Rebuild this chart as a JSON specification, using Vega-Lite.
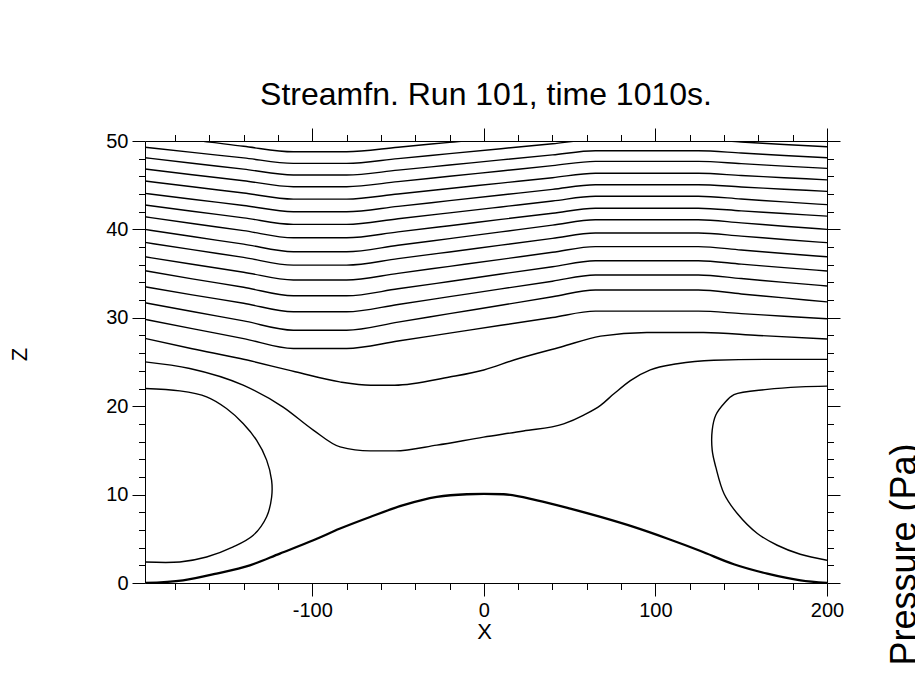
{
  "$schema": "https://vega.github.io/schema/vega-lite/v6.json",
  "width": 682,
  "height": 442,
  "autosize": {"type": "none"},
  "padding": {"left": 145, "top": 141, "right": 88, "bottom": 98},
  "background": "white",
  "title": {"text": "Streamfn. Run 101, time 1010s.", "font": "Liberation Sans", "fontSize": 32, "fontWeight": "normal", "color": "black", "frame": "group", "anchor": "middle", "baseline": "alphabetic", "offset": -9},
  "config": {
    "font": "Liberation Sans",
    "view": {"stroke": null},
    "axis": {"domainColor": "black", "tickColor": "black", "labelColor": "black", "titleColor": "black", "labelFont": "Liberation Sans", "titleFont": "Liberation Sans", "grid": false, "domainWidth": 1, "tickWidth": 1, "titleFontWeight": "normal"}
  },
  "datasets": {
    "upper": [
      {"c":"L0","x":-197.5,"z":50.45},{"c":"L0","x":-170,"z":50.1},{"c":"L0","x":-140,"z":49.4},{"c":"L0","x":-111,"z":48.78},{"c":"L0","x":-80,"z":48.78},{"c":"L0","x":-50,"z":49.3},{"c":"L0","x":-20,"z":49.85},{"c":"L0","x":10,"z":50.4},{"c":"L0","x":40,"z":50.95},{"c":"L0","x":65,"z":51.4},{"c":"L0","x":95,"z":51.4},{"c":"L0","x":125,"z":51.4},{"c":"L0","x":150,"z":51.1},{"c":"L0","x":175,"z":50.8},{"c":"L0","x":200,"z":50.5},
      {"c":"L1","x":-197.5,"z":49.29},{"c":"L1","x":-170,"z":48.71},{"c":"L1","x":-140,"z":48.09},{"c":"L1","x":-111,"z":47.47},{"c":"L1","x":-80,"z":47.47},{"c":"L1","x":-50,"z":48.01},{"c":"L1","x":-20,"z":48.57},{"c":"L1","x":10,"z":49.13},{"c":"L1","x":40,"z":49.69},{"c":"L1","x":65,"z":50.15},{"c":"L1","x":95,"z":50.15},{"c":"L1","x":125,"z":50.15},{"c":"L1","x":150,"z":49.89},{"c":"L1","x":175,"z":49.61},{"c":"L1","x":200,"z":49.35},
      {"c":"L2","x":-197.5,"z":48.11},{"c":"L2","x":-170,"z":47.48},{"c":"L2","x":-140,"z":46.82},{"c":"L2","x":-111,"z":46.15},{"c":"L2","x":-80,"z":46.15},{"c":"L2","x":-50,"z":46.7},{"c":"L2","x":-20,"z":47.28},{"c":"L2","x":10,"z":47.86},{"c":"L2","x":40,"z":48.43},{"c":"L2","x":65,"z":48.9},{"c":"L2","x":95,"z":48.9},{"c":"L2","x":125,"z":48.9},{"c":"L2","x":150,"z":48.64},{"c":"L2","x":175,"z":48.36},{"c":"L2","x":200,"z":48.1},
      {"c":"L3","x":-197.5,"z":46.83},{"c":"L3","x":-170,"z":46.19},{"c":"L3","x":-140,"z":45.51},{"c":"L3","x":-111,"z":44.83},{"c":"L3","x":-80,"z":44.83},{"c":"L3","x":-50,"z":45.4},{"c":"L3","x":-20,"z":46.01},{"c":"L3","x":10,"z":46.61},{"c":"L3","x":40,"z":47.21},{"c":"L3","x":65,"z":47.7},{"c":"L3","x":95,"z":47.7},{"c":"L3","x":125,"z":47.7},{"c":"L3","x":150,"z":47.44},{"c":"L3","x":175,"z":47.16},{"c":"L3","x":200,"z":46.9},
      {"c":"L4","x":-197.5,"z":45.47},{"c":"L4","x":-170,"z":44.82},{"c":"L4","x":-140,"z":44.12},{"c":"L4","x":-111,"z":43.43},{"c":"L4","x":-80,"z":43.43},{"c":"L4","x":-50,"z":44.01},{"c":"L4","x":-20,"z":44.63},{"c":"L4","x":10,"z":45.24},{"c":"L4","x":40,"z":45.85},{"c":"L4","x":65,"z":46.35},{"c":"L4","x":95,"z":46.35},{"c":"L4","x":125,"z":46.35},{"c":"L4","x":150,"z":46.1},{"c":"L4","x":175,"z":45.85},{"c":"L4","x":200,"z":45.6},
      {"c":"L5","x":-197.5,"z":44.08},{"c":"L5","x":-170,"z":43.41},{"c":"L5","x":-140,"z":42.71},{"c":"L5","x":-111,"z":42.0},{"c":"L5","x":-80,"z":42.0},{"c":"L5","x":-50,"z":42.61},{"c":"L5","x":-20,"z":43.25},{"c":"L5","x":10,"z":43.89},{"c":"L5","x":40,"z":44.53},{"c":"L5","x":65,"z":45.05},{"c":"L5","x":95,"z":45.05},{"c":"L5","x":125,"z":45.05},{"c":"L5","x":150,"z":44.8},{"c":"L5","x":175,"z":44.55},{"c":"L5","x":200,"z":44.3},
      {"c":"L6","x":-197.5,"z":42.76},{"c":"L6","x":-170,"z":42.06},{"c":"L6","x":-140,"z":41.31},{"c":"L6","x":-111,"z":40.57},{"c":"L6","x":-80,"z":40.57},{"c":"L6","x":-50,"z":41.21},{"c":"L6","x":-20,"z":41.87},{"c":"L6","x":10,"z":42.54},{"c":"L6","x":40,"z":43.21},{"c":"L6","x":65,"z":43.75},{"c":"L6","x":95,"z":43.75},{"c":"L6","x":125,"z":43.75},{"c":"L6","x":150,"z":43.44},{"c":"L6","x":175,"z":43.11},{"c":"L6","x":200,"z":42.8},
      {"c":"L7","x":-197.5,"z":41.43},{"c":"L7","x":-170,"z":40.67},{"c":"L7","x":-140,"z":39.86},{"c":"L7","x":-111,"z":39.05},{"c":"L7","x":-80,"z":39.05},{"c":"L7","x":-50,"z":39.72},{"c":"L7","x":-20,"z":40.42},{"c":"L7","x":10,"z":41.13},{"c":"L7","x":40,"z":41.83},{"c":"L7","x":65,"z":42.4},{"c":"L7","x":95,"z":42.4},{"c":"L7","x":125,"z":42.4},{"c":"L7","x":150,"z":42.1},{"c":"L7","x":175,"z":41.8},{"c":"L7","x":200,"z":41.5},
      {"c":"L8","x":-197.5,"z":40.0},{"c":"L8","x":-170,"z":39.19},{"c":"L8","x":-140,"z":38.33},{"c":"L8","x":-111,"z":37.47},{"c":"L8","x":-80,"z":37.47},{"c":"L8","x":-50,"z":38.2},{"c":"L8","x":-20,"z":38.96},{"c":"L8","x":10,"z":39.72},{"c":"L8","x":40,"z":40.48},{"c":"L8","x":65,"z":41.1},{"c":"L8","x":95,"z":41.1},{"c":"L8","x":125,"z":41.1},{"c":"L8","x":150,"z":40.74},{"c":"L8","x":175,"z":40.36},{"c":"L8","x":200,"z":40.0},
      {"c":"L9","x":-197.5,"z":38.53},{"c":"L9","x":-170,"z":37.71},{"c":"L9","x":-140,"z":36.83},{"c":"L9","x":-111,"z":35.96},{"c":"L9","x":-80,"z":35.96},{"c":"L9","x":-50,"z":36.69},{"c":"L9","x":-20,"z":37.45},{"c":"L9","x":10,"z":38.22},{"c":"L9","x":40,"z":38.98},{"c":"L9","x":65,"z":39.6},{"c":"L9","x":95,"z":39.6},{"c":"L9","x":125,"z":39.6},{"c":"L9","x":150,"z":39.24},{"c":"L9","x":175,"z":38.86},{"c":"L9","x":200,"z":38.5},
      {"c":"L10","x":-197.5,"z":36.9},{"c":"L10","x":-170,"z":36.06},{"c":"L10","x":-140,"z":35.16},{"c":"L10","x":-111,"z":34.27},{"c":"L10","x":-80,"z":34.27},{"c":"L10","x":-50,"z":35.03},{"c":"L10","x":-20,"z":35.82},{"c":"L10","x":10,"z":36.61},{"c":"L10","x":40,"z":37.41},{"c":"L10","x":65,"z":38.05},{"c":"L10","x":95,"z":38.05},{"c":"L10","x":125,"z":38.05},{"c":"L10","x":150,"z":37.67},{"c":"L10","x":175,"z":37.28},{"c":"L10","x":200,"z":36.9},
      {"c":"L11","x":-197.5,"z":35.32},{"c":"L11","x":-170,"z":34.41},{"c":"L11","x":-140,"z":33.45},{"c":"L11","x":-111,"z":32.49},{"c":"L11","x":-80,"z":32.49},{"c":"L11","x":-50,"z":33.28},{"c":"L11","x":-20,"z":34.11},{"c":"L11","x":10,"z":34.95},{"c":"L11","x":40,"z":35.78},{"c":"L11","x":65,"z":36.45},{"c":"L11","x":95,"z":36.45},{"c":"L11","x":125,"z":36.45},{"c":"L11","x":150,"z":36.07},{"c":"L11","x":175,"z":35.68},{"c":"L11","x":200,"z":35.3},
      {"c":"L12","x":-197.5,"z":33.51},{"c":"L12","x":-170,"z":32.6},{"c":"L12","x":-140,"z":31.64},{"c":"L12","x":-111,"z":30.68},{"c":"L12","x":-80,"z":30.68},{"c":"L12","x":-50,"z":31.51},{"c":"L12","x":-20,"z":32.39},{"c":"L12","x":10,"z":33.27},{"c":"L12","x":40,"z":34.14},{"c":"L12","x":65,"z":34.85},{"c":"L12","x":95,"z":34.85},{"c":"L12","x":125,"z":34.85},{"c":"L12","x":150,"z":34.44},{"c":"L12","x":175,"z":34.01},{"c":"L12","x":200,"z":33.6},
      {"c":"L13","x":-197.5,"z":31.7},{"c":"L13","x":-170,"z":30.71},{"c":"L13","x":-140,"z":29.65},{"c":"L13","x":-111,"z":28.6},{"c":"L13","x":-80,"z":28.6},{"c":"L13","x":-50,"z":29.51},{"c":"L13","x":-20,"z":30.47},{"c":"L13","x":10,"z":31.42},{"c":"L13","x":40,"z":32.38},{"c":"L13","x":65,"z":33.15},{"c":"L13","x":95,"z":33.15},{"c":"L13","x":125,"z":33.15},{"c":"L13","x":150,"z":32.7},{"c":"L13","x":175,"z":32.25},{"c":"L13","x":200,"z":31.8},
      {"c":"L14","x":-197.5,"z":29.82},{"c":"L14","x":-170,"z":28.77},{"c":"L14","x":-140,"z":27.65},{"c":"L14","x":-111,"z":26.53},{"c":"L14","x":-80,"z":26.53},{"c":"L14","x":-50,"z":27.37},{"c":"L14","x":-20,"z":28.26},{"c":"L14","x":10,"z":29.15},{"c":"L14","x":40,"z":30.03},{"c":"L14","x":65,"z":30.75},{"c":"L14","x":95,"z":30.75},{"c":"L14","x":125,"z":30.75},{"c":"L14","x":150,"z":30.47},{"c":"L14","x":175,"z":30.18},{"c":"L14","x":200,"z":29.9},
      {"c":"L15","x":-197.5,"z":27.67},{"c":"L15","x":-170,"z":26.5},{"c":"L15","x":-142,"z":25.4},{"c":"L15","x":-110,"z":23.9},{"c":"L15","x":-84,"z":22.75},{"c":"L15","x":-66,"z":22.37},{"c":"L15","x":-52,"z":22.37},{"c":"L15","x":-20,"z":23.3},{"c":"L15","x":0,"z":24.1},{"c":"L15","x":18,"z":25.25},{"c":"L15","x":45,"z":26.7},{"c":"L15","x":68,"z":27.93},{"c":"L15","x":95,"z":28.34},{"c":"L15","x":128,"z":28.34},{"c":"L15","x":160,"z":28.0},{"c":"L15","x":200,"z":27.6},
      {"c":"L16","x":-197.5,"z":25.02},{"c":"L16","x":-171.4,"z":24.27},{"c":"L16","x":-140.3,"z":22.38},{"c":"L16","x":-117,"z":19.9},{"c":"L16","x":-99.4,"z":17.3},{"c":"L16","x":-83.8,"z":15.4},{"c":"L16","x":-66.3,"z":14.95},{"c":"L16","x":-51.7,"z":14.95},{"c":"L16","x":-27.4,"z":15.6},{"c":"L16","x":-0.2,"z":16.5},{"c":"L16","x":23.1,"z":17.2},{"c":"L16","x":46.5,"z":18.0},{"c":"L16","x":58.2,"z":19.0},{"c":"L16","x":68,"z":20.1},{"c":"L16","x":75.8,"z":21.4},{"c":"L16","x":85.4,"z":22.9},{"c":"L16","x":97,"z":24.1},{"c":"L16","x":112.7,"z":24.8},{"c":"L16","x":134,"z":25.2},{"c":"L16","x":167,"z":25.3},{"c":"L16","x":200,"z":25.3}
    ],
    "vortex": [
      {"c":"VL","i":0,"x":-197.5,"z":22.0},{"c":"VL","i":1,"x":-177.2,"z":21.73},{"c":"VL","i":2,"x":-161.6,"z":21.06},{"c":"VL","i":3,"x":-150,"z":19.74},{"c":"VL","i":4,"x":-140.3,"z":18.04},{"c":"VL","i":5,"x":-132.5,"z":16.15},{"c":"VL","i":6,"x":-126.6,"z":13.9},{"c":"VL","i":7,"x":-123.7,"z":11.6},{"c":"VL","i":8,"x":-123.7,"z":9.7},{"c":"VL","i":9,"x":-126.6,"z":7.5},{"c":"VL","i":10,"x":-134.4,"z":5.4},{"c":"VL","i":11,"x":-146.1,"z":4.08},{"c":"VL","i":12,"x":-161.6,"z":2.94},{"c":"VL","i":13,"x":-177.2,"z":2.38},{"c":"VL","i":14,"x":-197.5,"z":2.38},
      {"c":"VR","i":0,"x":200,"z":22.27},{"c":"VR","i":1,"x":184.6,"z":22.19},{"c":"VR","i":2,"x":165.2,"z":21.9},{"c":"VR","i":3,"x":145.8,"z":21.3},{"c":"VR","i":4,"x":140,"z":20.3},{"c":"VR","i":5,"x":135.2,"z":19.0},{"c":"VR","i":6,"x":133.1,"z":17.3},{"c":"VR","i":7,"x":133.1,"z":15.0},{"c":"VR","i":8,"x":135.2,"z":13.1},{"c":"VR","i":9,"x":140,"z":10.1},{"c":"VR","i":10,"x":147.7,"z":7.86},{"c":"VR","i":11,"x":159.4,"z":5.6},{"c":"VR","i":12,"x":171,"z":4.27},{"c":"VR","i":13,"x":184.4,"z":3.25},{"c":"VR","i":14,"x":200,"z":2.57}
    ],
    "terrain": [
      {"x":-197.5,"z":0},{"x":-175.3,"z":0.3},{"x":-155.8,"z":1.06},{"x":-136.4,"z":2.0},{"x":-118.9,"z":3.33},{"x":-99.4,"z":4.83},{"x":-83.8,"z":6.16},{"x":-66.3,"z":7.47},{"x":-46.9,"z":8.8},{"x":-27.4,"z":9.73},{"x":-9.9,"z":10.04},{"x":0,"z":10.08},{"x":11.5,"z":10.04},{"x":31,"z":9.36},{"x":50.4,"z":8.42},{"x":68,"z":7.47},{"x":87.3,"z":6.34},{"x":106.8,"z":5.03},{"x":126.3,"z":3.62},{"x":145.7,"z":2.12},{"x":165.2,"z":1.06},{"x":184.6,"z":0.3},{"x":200,"z":0}
    ]
  },
  "layer": [
    {
      "data": {"name": "upper"},
      "mark": {"type": "line", "interpolate": "monotone", "stroke": "black", "strokeWidth": 1.4, "clip": true},
      "encoding": {
        "x": {"field": "x", "type": "quantitative", "scale": {"domain": [-197.5, 200], "nice": false, "zero": false},
          "axis": {"orient": "bottom", "values": [-180,-160,-140,-120,-100,-80,-60,-40,-20,0,20,40,60,80,100,120,140,160,180,200],
            "tickSize": {"condition": {"test": "datum.value % 100 === 0", "value": 13}, "value": 6.5},
            "labelExpr": "datum.value % 100 === 0 ? toString(datum.value) : ''",
            "labelFontSize": 20, "labelPadding": 4, "labelOverlap": false, "labelFlush": false,
            "title": "X", "titleFontSize": 22, "titleX": 339, "titleY": 48, "titleBaseline": "middle", "titleAlign": "center"}},
        "y": {"field": "z", "type": "quantitative", "scale": {"domain": [0, 50], "nice": false, "zero": false},
          "axis": {"orient": "left", "values": [0,2,4,6,8,10,12,14,16,18,20,22,24,26,28,30,32,34,36,38,40,42,44,46,48,50],
            "tickSize": {"condition": {"test": "datum.value % 10 === 0", "value": 13}, "value": 6.5},
            "labelExpr": "datum.value % 10 === 0 ? toString(datum.value) : ''",
            "labelFontSize": 20, "labelPadding": 4, "labelOverlap": false, "labelFlush": false,
            "title": "Z", "titleFontSize": 22, "titleAngle": 270, "titleX": -126, "titleY": 213, "titleBaseline": "middle", "titleAlign": "center"}},
        "detail": {"field": "c"}
      }
    },
    {
      "data": {"name": "vortex"},
      "mark": {"type": "line", "interpolate": "catmull-rom", "stroke": "black", "strokeWidth": 1.4, "clip": true},
      "encoding": {
        "x": {"field": "x", "type": "quantitative", "scale": {"domain": [-197.5, 200], "nice": false, "zero": false},
          "axis": {"orient": "top", "values": [-180,-160,-140,-120,-100,-80,-60,-40,-20,0,20,40,60,80,100,120,140,160,180,200],
            "tickSize": {"condition": {"test": "datum.value % 100 === 0", "value": 13}, "value": 6.5},
            "labels": false, "title": null}},
        "y": {"field": "z", "type": "quantitative", "scale": {"domain": [0, 50], "nice": false, "zero": false},
          "axis": {"orient": "right", "values": [0,2,4,6,8,10,12,14,16,18,20,22,24,26,28,30,32,34,36,38,40,42,44,46,48,50],
            "tickSize": {"condition": {"test": "datum.value % 10 === 0", "value": 13}, "value": 6.5},
            "labels": false,
            "title": "Pressure (Pa)", "titleFontSize": 36, "titleAngle": 270, "titleAlign": "right", "titleBaseline": "alphabetic", "titleX": 88, "titleY": 302}},
        "detail": {"field": "c"},
        "order": {"field": "i", "type": "quantitative"}
      }
    },
    {
      "data": {"name": "terrain"},
      "mark": {"type": "line", "interpolate": "monotone", "stroke": "black", "strokeWidth": 2.3, "clip": true},
      "encoding": {
        "x": {"field": "x", "type": "quantitative", "scale": {"domain": [-197.5, 200], "nice": false, "zero": false}, "axis": null},
        "y": {"field": "z", "type": "quantitative", "scale": {"domain": [0, 50], "nice": false, "zero": false}, "axis": null}
      }
    }
  ],
  "resolve": {"axis": {"x": "independent", "y": "independent"}}
}
